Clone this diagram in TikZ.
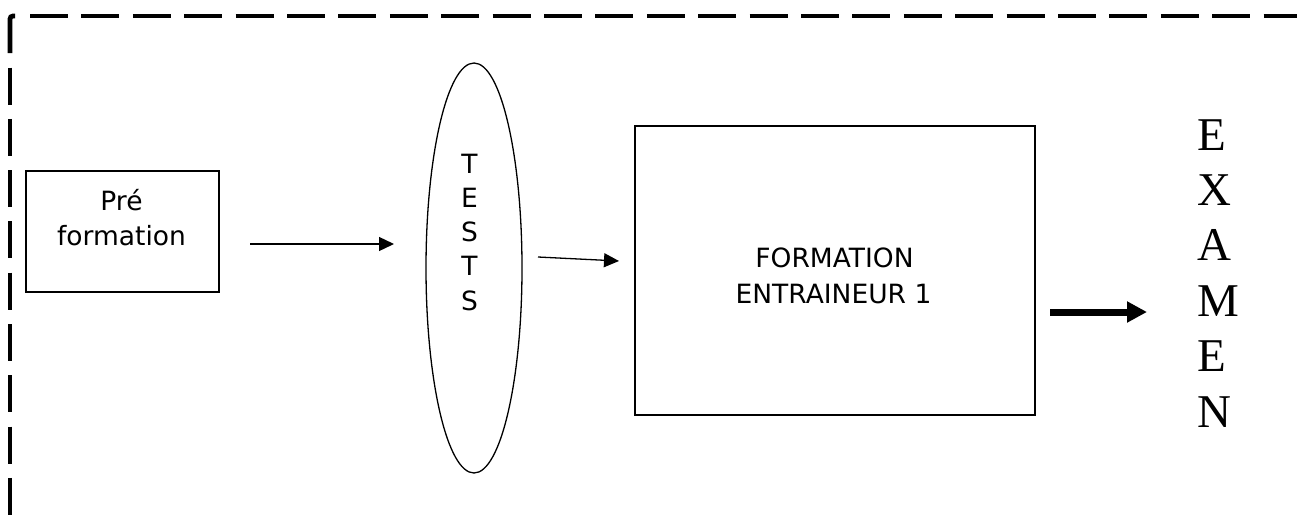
\documentclass[tikz,border=0pt]{standalone}
\usepackage{fontspec}
\setmainfont{Liberation Serif}
\newfontfamily\labelfont{DejaVu Sans}
\usetikzlibrary{arrows.meta,shapes.geometric}
\tikzset{
  frame/.style={line width=4.8pt, line cap=butt},
  boxshape/.style={draw, line width=1.3pt, rectangle, inner sep=0pt},
  sanslabel/.style={font=\labelfont\fontsize{26.5}{34}\selectfont, inner sep=0pt, anchor=base},
  seriflabel/.style={font=\fontsize{47}{55}\selectfont, inner sep=0pt, anchor=base west},
  thinarrow/.style={line width=1.3pt, -{Triangle[length=15pt,width=14pt]}},
  thickarrow/.style={line width=7pt, -{Triangle[length=20pt,width=20pt]}},
}
\begin{document}
\begin{tikzpicture}[x=1pt,y=-1pt]
\useasboundingbox (0,0) rectangle (1297,517);
% dashed frame
\draw[frame, rounded corners=3pt] (15,16) -- (10,16) -- (10,53);
\draw[frame, dash pattern=on 37pt off 14.3pt] (10,67.5) -- (10,517);
\draw[frame, dash pattern=on 38pt off 13.4pt] (30,16) -- (1297,16);
% Pre formation box
\node[boxshape, minimum width=193pt, minimum height=121pt] (pre) at (122.5,231.5) {};
\node[sanslabel] (pre1) at (121.5,210) {Pré};
\node[sanslabel] (pre2) at (121.5,245) {formation};
% Tests ellipse
\node[draw, ellipse, line width=1.3pt, minimum width=96pt, minimum height=410pt, inner sep=0pt] (tests) at (474,268) {};
\node[sanslabel] (t1) at (469.5,173) {T};
\node[sanslabel] (t2) at (469.5,207.25) {E};
\node[sanslabel] (t3) at (469.5,241.5) {S};
\node[sanslabel] (t4) at (469.5,275.75) {T};
\node[sanslabel] (t5) at (469.5,310) {S};
% Formation box
\node[boxshape, minimum width=400pt, minimum height=289pt] (form) at (835,270.5) {};
\node[sanslabel] (f1) at (834.5,267) {FORMATION};
\node[sanslabel] (f2) at (833.5,303) {ENTRAINEUR 1};
% EXAMEN
\node[seriflabel] (e1) at (1197,150) {E};
\node[seriflabel] (e2) at (1197,205.4) {X};
\node[seriflabel] (e3) at (1197,260.8) {A};
\node[seriflabel] (e4) at (1197,316.2) {M};
\node[seriflabel] (e5) at (1197,371.6) {E};
\node[seriflabel] (e6) at (1197,427) {N};
% arrows
\coordinate (a1s) at (250,244);
\coordinate (a1e) at (394,244);
\coordinate (a2s) at (538,257);
\coordinate (a2e) at (619,261);
\coordinate (a3s) at (1050,312);
\coordinate (a3e) at (1147,312);
\draw[thinarrow] (a1s) -- (a1e);
\draw[thinarrow] (a2s) -- (a2e);
\draw[thickarrow] (a3s) -- (a3e);
\end{tikzpicture}
\end{document}
